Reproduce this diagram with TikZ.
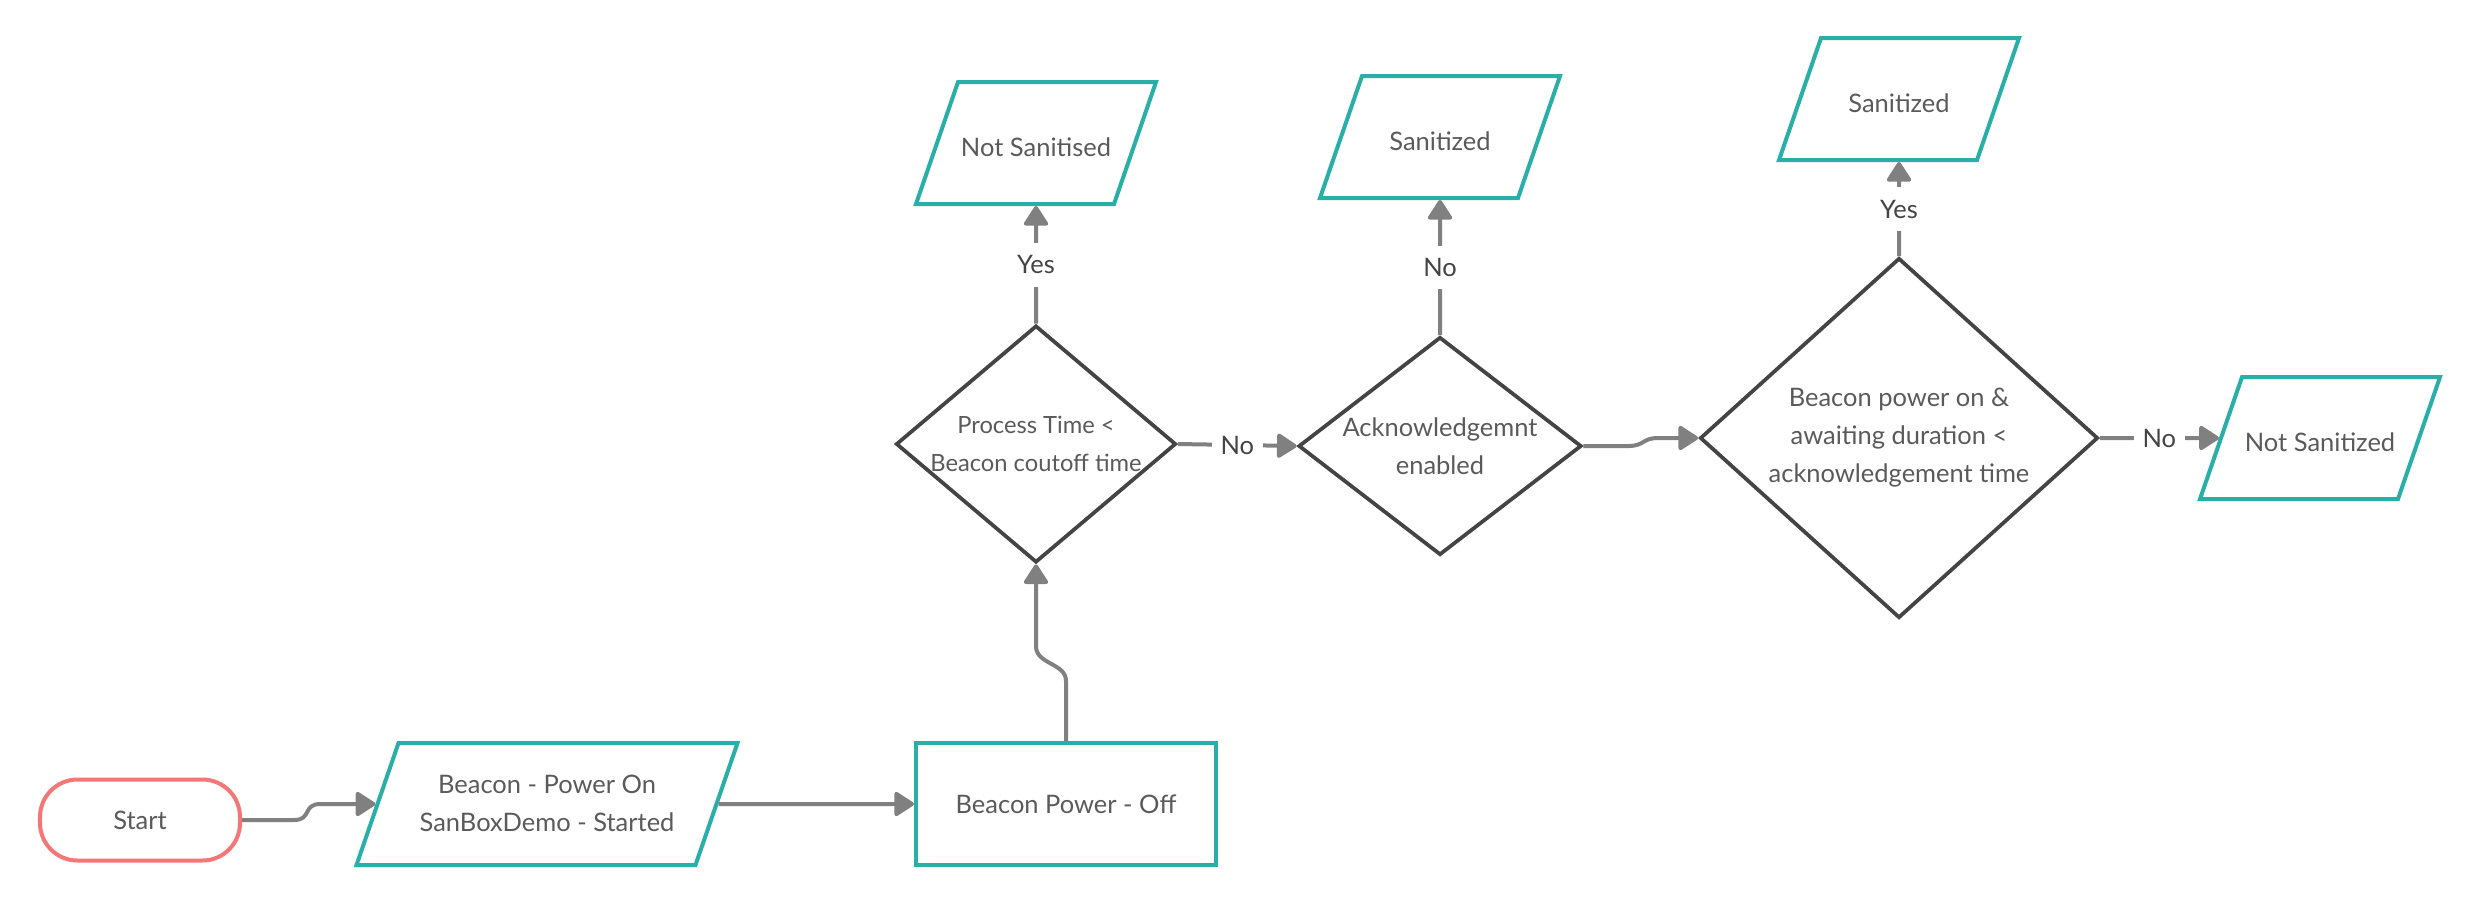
\documentclass[tikz,border=0pt]{standalone}
\usepackage{fontspec}
\setmainfont{Lato}
\usepackage{tikz}
\usetikzlibrary{arrows.meta,shapes.geometric,calc}
\usepackage{xcolor}
\definecolor{boxteal}{RGB}{42,174,168}
\definecolor{startred}{RGB}{245,118,118}
\definecolor{edgegray}{RGB}{68,68,68}
\definecolor{arrowgray}{RGB}{128,128,128}
\definecolor{textgray}{RGB}{90,90,90}

\begin{document}
\begin{tikzpicture}[x=0.2mm, y=-0.2mm, >={Triangle[length=4.3mm, width=5.3mm, round]},
    font=\fontsize{14.5}{21.6}\selectfont, text=textgray,
    terminal/.style={rectangle, rounded corners=7.5mm, draw=startred, line width=0.8mm,
      minimum width=40mm, minimum height=16.2mm},
    io/.style={trapezium, trapezium left angle=71, trapezium right angle=109,
      trapezium stretches body=true, draw=boxteal, line width=0.8mm, align=center,
      minimum width=48mm, text height=5.7mm, text depth=0.3mm, inner xsep=0pt, inner ysep=9.2mm},
    proc/.style={rectangle, draw=boxteal, line width=0.8mm,
      minimum width=60mm, minimum height=24.4mm},
    decision/.style={diamond, draw=edgegray, line width=0.75mm, align=center, inner sep=-5mm},
    flow/.style={draw=arrowgray, line width=0.8mm, ->},
    lbl/.style={fill=white, text=edgegray, inner xsep=1.8mm, inner ysep=2.5mm}]
  \useasboundingbox (0,0) rectangle (2480,904);

  \node[terminal] (start) at (140,820) {Start};
  \node[io, minimum width=76.2mm, text height=11.4mm, text depth=0.3mm, inner ysep=6.35mm] (pwron) at (547,804)
    {Beacon - Power On\\SanBoxDemo - Started};
  \node[proc] (pwroff) at (1066,804) {Beacon Power - Off};

  \node[decision, minimum width=56mm, minimum height=47.4mm,
    font=\fontsize{13.5}{21.6}\selectfont] (dproc) at (1036,444) {Process Time <\\Beacon coutoff time};
  \node[decision, minimum width=56.6mm, minimum height=43.6mm] (dack) at (1440,446) {Acknowledgemnt\\enabled};
  \node[decision, minimum width=79.6mm, minimum height=72mm] (dwait) at (1899,438)
    {Beacon power on \&\\awaiting duration <\\acknowledgement time};

  \node[io] (notsan) at (1036,143) {Not Sanitised};
  \node[io] (san) at (1440,137) {Sanitized};
  \node[io] (sanb) at (1899,99) {Sanitized};
  \node[io] (notsanb) at (2320,438) {Not Sanitized};

  \draw[flow] (start.east) -- ++(52,0) .. controls +(18,0) and +(-18,0) .. ($(pwron.west)+(-55,0)$) -- (pwron.west);
  \draw[flow] (pwron.east) -- (pwroff.west);
  \draw[flow] (pwroff.north) -- ++(0,-60) .. controls +(0,-18) and +(0,18) .. ($(dproc.south)+(0,82)$) -- (dproc.south);
  \draw[flow] (dproc.north) -- node[lbl] {Yes} (notsan);
  \draw[flow] (dproc.east) -- node[lbl] {No} (dack.west);
  \draw[flow] (dack.north) -- node[lbl] {No} (san);
  \draw[flow] (dack.east) -- ++(45,0) .. controls +(16,0) and +(-16,0) .. ($(dwait.west)+(-40,0)$) -- (dwait.west);
  \draw[flow] (dwait.north) -- node[lbl] {Yes} (sanb);
  \draw[flow] (dwait.east) -- node[lbl] {No} (notsanb);
\end{tikzpicture}
\end{document}
